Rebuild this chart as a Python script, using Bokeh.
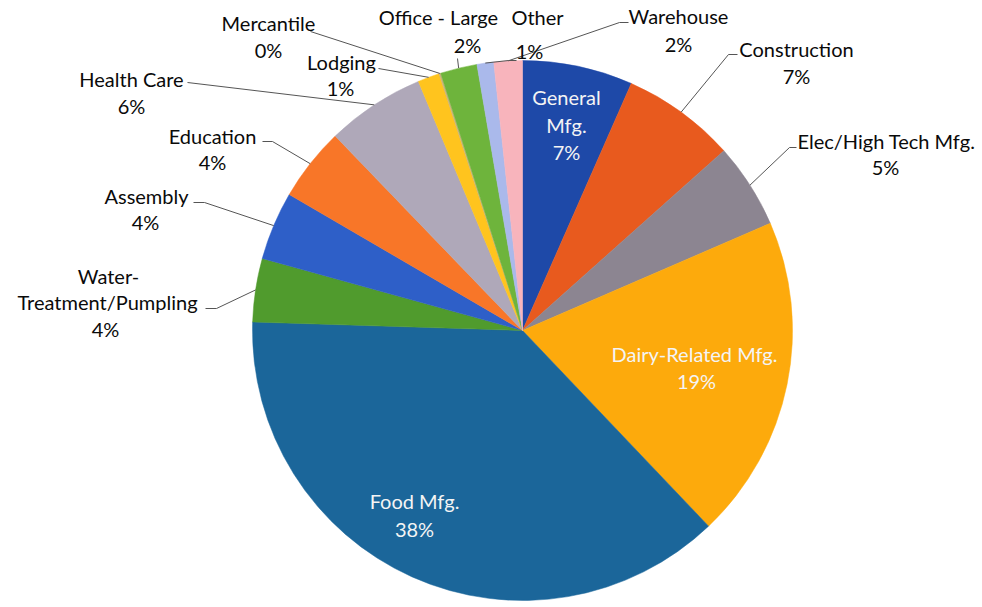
import math

from bokeh.plotting import figure
from bokeh.models import Range1d, ColumnDataSource
from bokeh.embed import file_html
from bokeh.resources import INLINE
from bokeh.core.properties import value

# ---- data -----------------------------------------------------------------
sectors = [
    "General Mfg.", "Construction", "Elec/High Tech Mfg.", "Dairy-Related Mfg.",
    "Food Mfg.", "Water-Treatment/Pumpling", "Assembly", "Education",
    "Health Care", "Lodging", "Mercantile", "Office - Large", "Other", "Warehouse",
]
shares = [6.6, 6.8, 5.1, 19.4, 37.6, 3.8, 4.1, 4.4, 5.9, 1.3, 0.1, 2.2, 1.0, 1.7]

# how each sector name is broken over lines in its label
name_lines = [
    ["General", "Mfg."], ["Construction"], ["Elec/High Tech Mfg."],
    ["Dairy-Related Mfg."], ["Food Mfg."], ["Water-", "Treatment/Pumpling"],
    ["Assembly"], ["Education"], ["Health Care"], ["Lodging"], ["Mercantile"],
    ["Office - Large"], ["Other"], ["Warehouse"],
]

# ---- styles ---------------------------------------------------------------
colors = [
    "#1E49A8", "#E85A1E", "#8C8591", "#FDAA0C", "#1B669A", "#509B2D", "#2E5FC8",
    "#F87628", "#AFA8B9", "#FFC41E", "#C9B37A", "#6EB43C", "#AAB9EB", "#F8B4BC",
]
inside = [True, False, False, True, True, False, False, False, False, False,
          False, False, False, False]

W, H = 982, 607
CX, CY, R = 522, 330, 270          # pie centre / radius in screen pixels
FONT = "Lato"
FS = "20px"
TEXT_DY = -2                       # nudge for the font's vertical centring

# label line centres (screen px), one per text line, percentage last
label_pos = [
    [(566, 98), (566, 126), (566, 153)],
    [(796, 50), (796, 77)],
    [(886, 142), (885, 168)],
    [(694, 355), (696, 382)],
    [(414, 502), (414, 530)],
    [(108, 277), (107, 303), (105, 330)],
    [(146, 197), (145, 223)],
    [(212, 137), (212, 163)],
    [(131, 80), (131, 107)],
    [(341, 63), (340, 89)],
    [(268, 24), (268, 51)],
    [(438, 18), (467, 46)],
    [(537, 18), (529, 52)],
    [(678, 17), (678, 45)],
]

# leader line start points (screen px) for outside labels; the far end is the
# slice's mid point on the rim
leader_start = {
    1: [(737, 54), (728, 54)],
    2: [(796, 147), (789, 147)],
    5: [(205, 308), (216, 308)],
    6: [(193, 202), (204, 202)],
    7: [(262, 141), (272, 141)],
    8: [(187, 82)],
    9: [(378, 68)],
    10: [(310, 31)],
    11: [(457, 58)],
    12: [(516, 60), (508, 60)],
    13: [(628, 22), (619, 22)],
}


def to_data(pt):
    """screen (x down) -> data (y up)"""
    return pt[0], H - pt[1]


p = figure(width=W, height=H, x_range=Range1d(0, W), y_range=Range1d(0, H),
           output_backend="svg", toolbar_location=None, min_border=0,
           background_fill_color="white", border_fill_color="white")
p.axis.visible = False
p.grid.visible = False
p.outline_line_color = None

# ---- wedges ---------------------------------------------------------------
total = sum(shares)
starts, ends, mids = [], [], []
acc = 0.0
for s in shares:
    a0 = acc / total
    acc += s
    a1 = acc / total
    starts.append(math.pi / 2 - 2 * math.pi * a0)
    ends.append(math.pi / 2 - 2 * math.pi * a1)
    mids.append(math.pi / 2 - 2 * math.pi * (a0 + a1) / 2)

cx, cy = to_data((CX, CY))
src = ColumnDataSource(dict(
    x=[cx] * len(shares), y=[cy] * len(shares), start=starts, end=ends,
    color=colors, sector=sectors, share=shares,
))
p.wedge(x="x", y="y", radius=R, start_angle="start", end_angle="end",
        direction="clock", fill_color="color", line_color="color",
        line_width=0.5, source=src)

# ---- leader lines ---------------------------------------------------------
for i, pts in leader_start.items():
    rim = (cx + R * math.cos(mids[i]), cy + R * math.sin(mids[i]))
    xs = [to_data(q)[0] for q in pts] + [rim[0]]
    ys = [to_data(q)[1] for q in pts] + [rim[1]]
    p.line(xs, ys, line_color="#555555", line_width=1)

# ---- labels ---------------------------------------------------------------
tx, ty, tt, tc = [], [], [], []
for i, name in enumerate(sectors):
    lines = name_lines[i] + [f"{round(shares[i])}%"]
    for txt, pos in zip(lines, label_pos[i]):
        x, y = to_data((pos[0], pos[1] + TEXT_DY))
        tx.append(x)
        ty.append(y)
        tt.append(txt)
        tc.append("#F4F4F4" if inside[i] else "#0a0a0a")

p.text(x=tx, y=ty, text=tt, text_color=tc, text_font=value(FONT),
       text_font_size=FS, text_align="center", text_baseline="middle")

open("out.html", "w").write(file_html(p, INLINE))
